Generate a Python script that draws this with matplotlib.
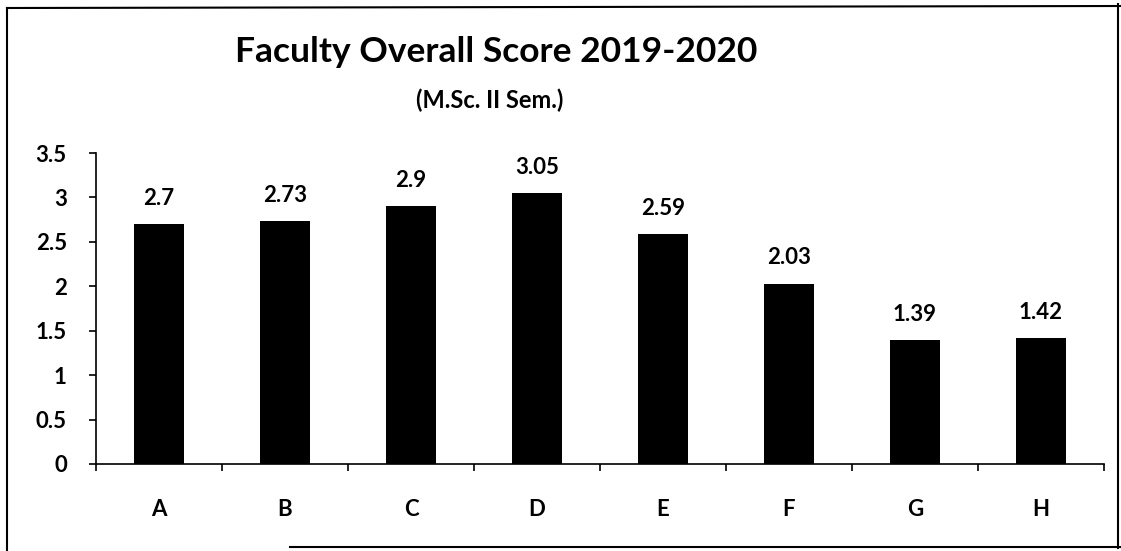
import matplotlib
matplotlib.use("Agg")
import matplotlib.pyplot as plt
from matplotlib.lines import Line2D
import numpy as np

plt.rcParams['font.family'] = ['Lato', 'DejaVu Sans']

faculty = ["A", "B", "C", "D", "E", "F", "G", "H"]
scores = [2.7, 2.73, 2.9, 3.05, 2.59, 2.03, 1.39, 1.42]
labels = ["2.7", "2.73", "2.9", "3.05", "2.59", "2.03", "1.39", "1.42"]
yticks = [0, 0.5, 1, 1.5, 2, 2.5, 3, 3.5]

fig = plt.figure(figsize=(11.21, 5.51), dpi=100)
ax = fig.add_axes([96/1121, 1 - 464/551, (1104 - 96)/1121, (464 - 153)/551])

x = np.arange(len(faculty))
ax.bar(x, scores, width=0.39, color="black")

# value labels above each bar
for xi, s, lab in zip(x, scores, labels):
    ax.text(xi, s + 0.29, lab, ha="center", va="center", fontsize=16, fontweight="bold")

ax.set_xlim(-0.5, len(faculty) - 0.5)
ax.set_ylim(0, 3.5)
ax.set_yticks(yticks)
ax.set_yticklabels([f"{t:g}" for t in yticks], fontsize=16, fontweight="bold")
ax.set_xticks(x)
ax.set_xticklabels(faculty, fontsize=16, fontweight="bold")
ax.set_xticks(np.arange(-0.5, len(faculty)), minor=True)
ax.tick_params(axis="x", which="major", length=0, pad=25)
ax.tick_params(axis="x", which="minor", length=5, width=1.2, direction="out")
ax.tick_params(axis="y", length=5, width=1.2, direction="out", pad=16)

for side in ["top", "right"]:
    ax.spines[side].set_visible(False)
ax.spines["left"].set_linewidth(1.2)
ax.spines["bottom"].set_linewidth(1.2)

fig.text(496/1121, 1 - 52/551, "Faculty Overall Score 2019-2020",
         ha="center", va="center", fontsize=25.5, fontweight="bold")
fig.text(490/1121, 1 - 100/551, "(M.Sc. II Sem.)",
         ha="center", va="center", fontsize=17, fontweight="bold")

# scanned frame round the chart
fig.add_artist(Line2D([7/1121, 7/1121], [0, 1 - 8/551], color="black", lw=1.5))
fig.add_artist(Line2D([7/1121, 1], [1 - 8/551, 1 - 6/551], color="black", lw=1.5))
fig.add_artist(Line2D([1118/1121, 1118/1121], [1 - 548/551, 1 - 4/551], color="black", lw=1.5))
fig.add_artist(Line2D([290/1121, 1], [1 - 547/551, 1 - 547/551], color="black", lw=1.5))

fig.savefig("out.png", dpi=100)
